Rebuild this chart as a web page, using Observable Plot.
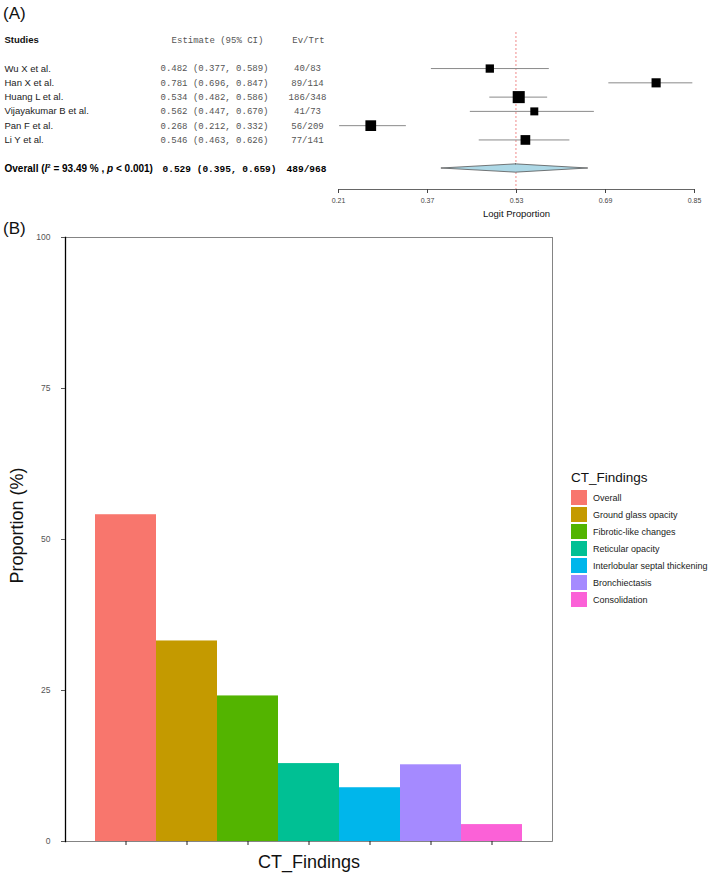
<!DOCTYPE html>
<html>
<head>
<meta charset="utf-8">
<script src="https://cdn.jsdelivr.net/npm/d3@7"></script>
<script src="https://cdn.jsdelivr.net/npm/@observablehq/plot@0.6"></script>
<style>
  html, body { margin: 0; padding: 0; background: #fff; }
  body { font-family: "Liberation Sans", Arial, sans-serif; }
  #wrap { position: relative; width: 709px; height: 875px; overflow: hidden; }
  .panel-label { position: absolute; left: 3px; font-size: 17px; color: #111; line-height: 1; }
  #forest { position: absolute; left: 0; top: 0; }
  #bars { position: absolute; left: 0; top: 215px; }
  #legend { position: absolute; left: 571px; top: 468px; }
  #legend .title { font-size: 13.5px; color: #111; height: 19px; line-height: 19px; margin-bottom: 2px; }
  #legend .row { display: flex; align-items: center; height: 17px; }
  #legend .sw { width: 16px; height: 15px; margin-right: 6px; }
  #legend .lab { font-size: 9px; color: #1a1a1a; }
</style>
</head>
<body>
<div id="wrap">
  <div class="panel-label" style="top:5px">(A)</div>
  <div id="forest"></div>
  <div class="panel-label" style="top:220px">(B)</div>
  <div id="bars"></div>
  <div id="legend"></div>
</div>
<script>
// ---------- Panel A data ----------
const studies = ["Wu X et al.", "Han X et al.", "Huang L et al.", "Vijayakumar B et al.", "Pan F et al.", "Li Y et al."];
const estimates = [0.482, 0.781, 0.534, 0.562, 0.268, 0.546];
const lowerCI = [0.377, 0.696, 0.482, 0.447, 0.212, 0.463];
const upperCI = [0.589, 0.847, 0.586, 0.670, 0.332, 0.626];
const events = [40, 89, 186, 41, 56, 77];
const totals = [83, 114, 348, 73, 209, 141];
const overallEst = 0.529, overallLo = 0.395, overallHi = 0.659;
const overallEvents = 489, overallTotal = 968;
const overallI2 = "93.49", overallP = "< 0.001";
const forestTicks = [0.21, 0.37, 0.53, 0.69, 0.85];

// ---------- Panel B data ----------
const findings = ["Overall", "Ground glass opacity", "Fibrotic-like changes", "Reticular opacity",
  "Interlobular septal thickening", "Bronchiectasis", "Consolidation"];
const proportions = [54.1, 33.2, 24.1, 12.9, 8.9, 12.7, 2.8];
const palette = ["#F8766D", "#C49A00", "#53B400", "#00C094", "#00B6EB", "#A58AFF", "#FB61D7"];
const yTicks = [0, 25, 50, 75, 100];

const fmt3 = d3.format(".3f");
const sans = "Liberation Sans, Arial, sans-serif";
const mono = "Liberation Mono, DejaVu Sans Mono, monospace";

const rows = studies.map((s, i) => ({
  study: s, row: i + 1, est: estimates[i], lo: lowerCI[i], hi: upperCI[i], ev: events[i], n: totals[i]
}));
const overallRow = 8;
const diamondHalf = 0.29;
const diamond = [
  {y: overallRow - diamondHalf, x1: overallEst, x2: overallEst},
  {y: overallRow, x1: overallLo, x2: overallHi},
  {y: overallRow + diamondHalf, x1: overallEst, x2: overallEst}
];

const forest = Plot.plot({
  width: 709, height: 225,
  marginLeft: 338, marginRight: 15, marginTop: 32, marginBottom: 36,
  style: {fontFamily: sans, background: "transparent"},
  x: {domain: [0.21, 0.85]},
  y: {domain: [-1, 8], range: [39.5, 168], axis: null},
  r: {type: "log", domain: [73, 348], range: [4.5, 6.8]},
  marks: [
    Plot.frame({anchor: "bottom", stroke: "#666"}),
    Plot.axisX({ticks: forestTicks, tickSize: 4, tickPadding: 5, tickFormat: d3.format(".2f"),
      fontSize: 7, label: null, color: "#444"}),
    Plot.text(["Logit Proportion"], {frameAnchor: "bottom", lineAnchor: "middle", textAnchor: "middle", dy: 24, fontSize: 9.5, fill: "#111"}),
    Plot.ruleX([overallEst], {stroke: "#f08a8a", strokeDasharray: "2,2", strokeWidth: 1}),
    Plot.ruleY(rows, {y: "row", x1: "lo", x2: "hi", stroke: "#8a8a8a", strokeWidth: 1}),
    Plot.dot(rows, {x: "est", y: "row", r: "n", symbol: "square", fill: "#000", stroke: null}),
    Plot.areaX(diamond, {y: "y", x1: "x1", x2: "x2", fill: "#ADD8E6", stroke: "#555", strokeWidth: 0.8}),
    // headers
    Plot.text(["Studies"], {y: [-1], frameAnchor: "left", dx: -334, textAnchor: "start", fontWeight: "bold", fontSize: 9.5, fill: "#111"}),
    Plot.text(["Estimate (95% CI)"], {y: [-1], frameAnchor: "left", dx: -121, textAnchor: "middle", fontFamily: mono, fontSize: 9, fill: "#555"}),
    Plot.text(["Ev/Trt"], {y: [-1], frameAnchor: "left", dx: -30, textAnchor: "middle", fontFamily: mono, fontSize: 9, fill: "#555"}),
    // study rows
    Plot.text(rows, {y: "row", text: "study", frameAnchor: "left", dx: -334, textAnchor: "start", fontSize: 9.5, fill: "#222"}),
    Plot.text(rows, {y: "row", text: d => `${fmt3(d.est)} (${fmt3(d.lo)}, ${fmt3(d.hi)})`, frameAnchor: "left", dx: -178,
      textAnchor: "start", fontFamily: mono, fontSize: 9, fill: "#555"}),
    Plot.text(rows, {y: "row", text: d => `${d.ev}/${d.n}`, frameAnchor: "left", dx: -31, textAnchor: "middle",
      fontFamily: mono, fontSize: 9, fill: "#555"}),
    // overall row
    Plot.text([`Overall (I2 = ${overallI2} % , p ${overallP})`], {y: [overallRow], frameAnchor: "left", dx: -334, textAnchor: "start",
      fontWeight: "bold", fontSize: 10, fill: "#000"}),
    Plot.text([`${fmt3(overallEst)} (${fmt3(overallLo)}, ${fmt3(overallHi)})`], {y: [overallRow], frameAnchor: "left", dx: -176,
      textAnchor: "start", fontFamily: mono, fontWeight: "bold", fontSize: 9.5, fill: "#000"}),
    Plot.text([`${overallEvents}/${overallTotal}`], {y: [overallRow], frameAnchor: "left", dx: -32, textAnchor: "middle",
      fontFamily: mono, fontWeight: "bold", fontSize: 9.5, fill: "#000"})
  ]
});
document.getElementById("forest").appendChild(forest);

// rich text for the overall label (italic I with superscript 2, italic p)
forest.querySelectorAll("text").forEach(t => {
  if (t.textContent.startsWith("Overall (I2")) {
    const ns = "http://www.w3.org/2000/svg";
    const parts = [
      ["Overall (", {}],
      ["I", {"font-style": "italic"}],
      ["2", {"font-size": "6px", "dy": "-4"}],
      [` = ${overallI2} % , `, {"dy": "4"}],
      ["p", {"font-style": "italic"}],
      [` ${overallP})`, {}]
    ];
    t.textContent = "";
    for (const [txt, attrs] of parts) {
      const ts = document.createElementNS(ns, "tspan");
      ts.textContent = txt;
      for (const k in attrs) ts.setAttribute(k, attrs[k]);
      t.appendChild(ts);
    }
  }
});

// ---------- Panel B ----------
const barData = findings.map((f, i) => ({finding: f, value: proportions[i]}));
const bars = Plot.plot({
  width: 709, height: 660,
  marginLeft: 65, marginRight: 157, marginTop: 22, marginBottom: 34,
  style: {fontFamily: sans, background: "transparent"},
  x: {type: "band", domain: findings, padding: 0, insetLeft: 30, insetRight: 30},
  y: {domain: [0, 100]},
  color: {domain: findings, range: palette},
  marks: [
    Plot.barY(barData, {x: "finding", y: "value", fill: "finding"}),
    Plot.frame({stroke: "#666", strokeWidth: 0.8}),
    Plot.frame({anchor: "left", stroke: "#000", strokeWidth: 1.3}),
    Plot.axisY({ticks: yTicks, tickSize: 4, tickPadding: 11, fontSize: 8.5, color: "#555", label: null}),
    Plot.axisX({tickSize: 4, tickFormat: () => "", label: null, color: "#222"}),
    Plot.text(["Proportion (%)"], {frameAnchor: "left", textAnchor: "middle", lineAnchor: "middle", rotate: -90, dx: -48, dy: -14, fontSize: 18, fill: "#111"}),
    Plot.text(["CT_Findings"], {frameAnchor: "bottom", textAnchor: "middle", lineAnchor: "middle", dy: 21, fontSize: 18, fill: "#111"})
  ]
});
document.getElementById("bars").appendChild(bars);

// legend
const legend = document.getElementById("legend");
const title = document.createElement("div");
title.className = "title";
title.textContent = "CT_Findings";
legend.appendChild(title);
findings.forEach((f, i) => {
  const row = document.createElement("div");
  row.className = "row";
  const sw = document.createElement("div");
  sw.className = "sw";
  sw.style.background = palette[i];
  const lab = document.createElement("div");
  lab.className = "lab";
  lab.textContent = f;
  row.appendChild(sw);
  row.appendChild(lab);
  legend.appendChild(row);
});
</script>
</body>
</html>
